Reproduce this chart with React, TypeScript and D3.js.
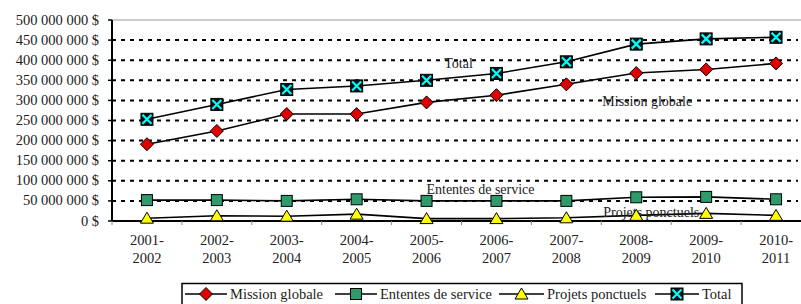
import * as d3 from "d3";

const years = ["2001-2002", "2002-2003", "2003-2004", "2004-2005", "2005-2006", "2006-2007", "2007-2008", "2008-2009", "2009-2010", "2010-2011"];
const missionGlobale = [191e6, 224e6, 266e6, 266e6, 295e6, 313e6, 340e6, 368e6, 377e6, 392e6];
const ententesService = [52e6, 52e6, 50e6, 54e6, 50e6, 50e6, 50e6, 59e6, 60e6, 54e6];
const projetsPonctuels = [7e6, 13e6, 12e6, 17e6, 6e6, 6e6, 8e6, 14e6, 19e6, 14e6];
const total = [253e6, 290e6, 327e6, 336e6, 350e6, 367e6, 396e6, 440e6, 453e6, 457e6];
const yTicks = [0, 50e6, 100e6, 150e6, 200e6, 250e6, 300e6, 350e6, 400e6, 450e6, 500e6];

const W = 801, H = 304;
const left = 112, right = 811, top = 20, bottom = 221;
const font = "Liberation Serif";

const locale = d3.formatLocale({ decimal: ",", thousands: " ", grouping: [3], currency: ["", " $"] });
const fmt = (d: number) => locale.format(",")(d) + " $";

type Kind = "diamond" | "square" | "triangle" | "cross";

const Marker = ({ kind, cx, cy }: { kind: Kind; cx: number; cy: number }) => {
  if (kind === "diamond")
    return <path d={`M${cx},${cy - 6.5}L${cx + 6.5},${cy}L${cx},${cy + 6.5}L${cx - 6.5},${cy}Z`} fill="#e00000" stroke="#000" strokeWidth={1} />;
  if (kind === "square")
    return <rect x={cx - 5.5} y={cy - 5.5} width={11} height={11} fill="#2f9a6a" stroke="#000" strokeWidth={1} />;
  if (kind === "triangle")
    return <path d={`M${cx},${cy - 6}L${cx + 6.5},${cy + 5}L${cx - 6.5},${cy + 5}Z`} fill="#ffff00" stroke="#000" strokeWidth={1} />;
  return (
    <g>
      <rect x={cx - 6} y={cy - 6} width={12} height={12} fill="#111" stroke="#000" strokeWidth={1} />
      <path d={`M${cx - 4.5},${cy - 4.5}L${cx + 4.5},${cy + 4.5}M${cx + 4.5},${cy - 4.5}L${cx - 4.5},${cy + 4.5}`} stroke="#00ffff" strokeWidth={2.2} />
    </g>
  );
};

const series: { name: string; values: number[]; kind: Kind }[] = [
  { name: "Mission globale", values: missionGlobale, kind: "diamond" },
  { name: "Ententes de service", values: ententesService, kind: "square" },
  { name: "Projets ponctuels", values: projetsPonctuels, kind: "triangle" },
  { name: "Total", values: total, kind: "cross" },
];

export default function App() {
  const x = d3.scaleBand<string>().domain(years).range([left, right]).padding(0);
  const y = d3.scaleLinear().domain([0, 500e6]).range([bottom, top]);
  const cx = (i: number) => (x(years[i]) ?? 0) + x.bandwidth() / 2;
  const line = d3.line<number>().x((_, i) => cx(i)).y((d) => y(d));

  const legendItems = [
    { lx: 185, tx: 230 },
    { lx: 335, tx: 380 },
    { lx: 499, tx: 547 },
    { lx: 655, tx: 702 },
  ];

  return (
    <svg width={W} height={H} style={{ position: "absolute", left: 0, top: 0, fontFamily: font }}>
      <rect width={W} height={H} fill="#fff" />
      {/* top border */}
      <line x1={left} x2={W} y1={top} y2={top} stroke="#999" strokeWidth={1.2} />
      {/* gridlines */}
      {yTicks.filter((t) => t > 0 && t < 500e6).map((t) => (
        <line key={t} x1={left} x2={W - 3} y1={y(t)} y2={y(t)} stroke="#000" strokeWidth={2} strokeDasharray="4 5" />
      ))}
      {/* y axis */}
      <line x1={left} x2={left} y1={top} y2={bottom} stroke="#000" strokeWidth={2} />
      {yTicks.map((t) => (
        <g key={t}>
          <line x1={left - 4} x2={left} y1={y(t)} y2={y(t)} stroke="#000" strokeWidth={1.5} />
          <text x={99} y={y(t) + 4.5} textAnchor="end" fontSize={14.5} fill="#222" style={{ fontFamily: font }}>{fmt(t)}</text>
        </g>
      ))}
      {/* x axis */}
      <line x1={left} x2={W} y1={bottom} y2={bottom} stroke="#000" strokeWidth={2} />
      {years.map((yr) => (
        <line key={yr} x1={x(yr)} x2={x(yr)} y1={bottom} y2={bottom + 4} stroke="#888" strokeWidth={1} />
      ))}
      {years.map((yr, i) => {
        const [a, b] = yr.split("-");
        return (
          <text key={yr} x={cx(i)} textAnchor="middle" fontSize={14.5} fill="#222" style={{ fontFamily: font }}>
            <tspan x={cx(i)} y={245}>{a}-</tspan>
            <tspan x={cx(i)} y={263}>{b}</tspan>
          </text>
        );
      })}
      {/* lines */}
      {series.map((s) => (
        <path key={s.name} d={line(s.values) ?? ""} fill="none" stroke="#000" strokeWidth={1.6} />
      ))}
      {/* annotations */}
      <text x={(x(years[5]) ?? 0) - 3} y={y(380e6)} textAnchor="middle" fontSize={14} fill="#222" style={{ fontFamily: font }}>Total</text>
      <text x={cx(7) + 11} y={y(286e6)} textAnchor="middle" fontSize={14} fill="#222" style={{ fontFamily: font }}>Mission globale</text>
      <text x={(x(years[5]) ?? 0) + 19} y={y(67e6)} textAnchor="middle" fontSize={14} fill="#222" style={{ fontFamily: font }}>Ententes de service</text>
      <text x={cx(7) + 15} y={y(10e6)} textAnchor="middle" fontSize={14} fill="#222" style={{ fontFamily: font }}>Projets ponctuels</text>
      {/* markers */}
      {series.map((s) =>
        s.values.map((v, i) => <Marker key={s.name + i} kind={s.kind} cx={cx(i)} cy={y(v)} />)
      )}
      {/* legend */}
      <rect x={182} y={283.5} width={560} height={26} fill="#fff" stroke="#000" strokeWidth={1.5} />
      {series.map((s, i) => (
        <g key={s.name}>
          <line x1={legendItems[i].lx} x2={legendItems[i].tx - 3} y1={294} y2={294} stroke="#000" strokeWidth={1.6} />
          <Marker kind={s.kind} cx={(legendItems[i].lx + legendItems[i].tx - 3) / 2} cy={294} />
          <text x={legendItems[i].tx} y={299} fontSize={14.5} fill="#222" style={{ fontFamily: font }}>{s.name}</text>
        </g>
      ))}
    </svg>
  );
}
